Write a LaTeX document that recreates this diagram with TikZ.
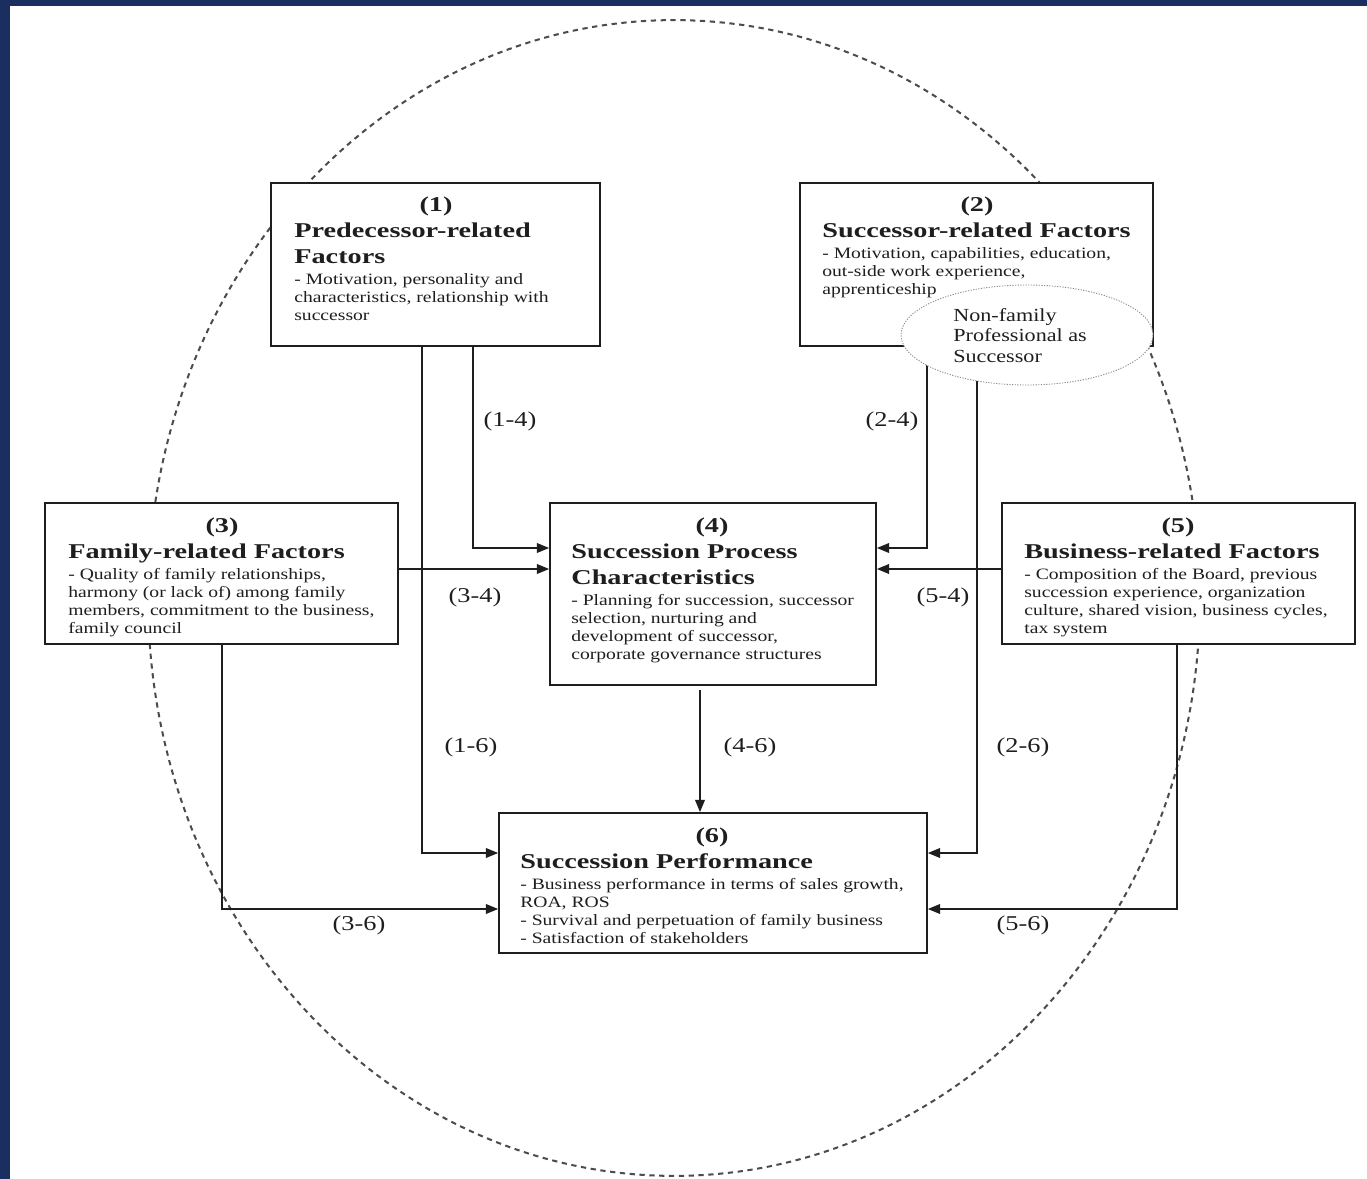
\documentclass[tikz,border=0pt]{standalone}
\usepackage{fontspec}
\setmainfont{Liberation Serif}
\newfontfamily\headfam[FakeStretch=1.34]{Liberation Serif}
\newfontfamily\bodyfam[FakeStretch=1.24]{Liberation Serif}
\newfontfamily\tagfam[FakeStretch=1.25]{Liberation Serif}
\newfontfamily\ovalfam[FakeStretch=1.2]{Liberation Serif}
\usetikzlibrary{arrows.meta,shapes.geometric}
\definecolor{frameblue}{HTML}{1A2E60}
\definecolor{ink}{HTML}{1E1E1E}
\pgfdeclarelayer{under}
\pgfsetlayers{under,main}
\tikzset{
  box/.style={draw=ink, line width=1pt, fill=white, rectangle, inner sep=0pt},
  numtxt/.style={anchor=base, inner sep=0pt, text=ink, font=\headfam\bfseries\fontsize{12}{14}\selectfont},
  headtxt/.style={anchor=base west, inner sep=0pt, text=ink, font=\headfam\bfseries\fontsize{12}{14}\selectfont},
  bodytxt/.style={anchor=base west, inner sep=0pt, text=ink, font=\bodyfam\fontsize{9}{11}\selectfont},
  ovaltxt/.style={anchor=base west, inner sep=0pt, text=ink, font=\ovalfam\fontsize{10.5}{12}\selectfont},
  tagtxt/.style={inner sep=0pt, text=ink, font=\tagfam\fontsize{12}{14}\selectfont},
  conn/.style={draw=ink, line width=0.9pt, -{Triangle[length=7pt,width=5.5pt]}},
}
\begin{document}
\begin{tikzpicture}[x=0.02cm,y=-0.02cm]
\useasboundingbox (0,0) rectangle (1367,1179);

% boxes
\node[box, minimum width=6.58cm, minimum height=3.26cm] (b1) at (435.5,264.5) {};
\node[box, minimum width=7.06cm, minimum height=3.26cm] (b2) at (976.5,264.5) {};
\node[box, minimum width=7.06cm, minimum height=2.82cm] (b3) at (221.5,573.5) {};
\node[box, minimum width=6.52cm, minimum height=3.64cm] (b4) at (713,594) {};
\node[box, minimum width=7.06cm, minimum height=2.82cm] (b5) at (1178.5,573.5) {};
\node[box, minimum width=8.56cm, minimum height=2.80cm] (b6) at (713,883) {};

% non-family professional oval
\node[ellipse, draw=black!45, fill=white, line width=0.5pt, dash pattern=on 0.7pt off 0.8pt,
      minimum width=5.04cm, minimum height=2cm, inner sep=0pt] (ne) at (1027,335) {};

% outer dashed ellipse and frame
\begin{pgfonlayer}{under}
  \fill[frameblue] (0,0) rectangle (1367,1179);
  \fill[white] (10,6) rectangle (1367,1179);
  \node[ellipse, draw=black!70, line width=1.15pt, dash pattern=on 3pt off 2.6pt,
        minimum width=21.04cm, minimum height=23.12cm, inner sep=0pt] (outer) at (674,598) {};
\end{pgfonlayer}

% routing points
\coordinate (c14) at (473,548);
\coordinate (c16) at (422,853);
\coordinate (c24) at (927,548);
\coordinate (c26) at (977,853);
\coordinate (c34) at (400,569);
\coordinate (c36) at (222,909);
\coordinate (c54) at (1000,569);
\coordinate (c56) at (1177,909);
\coordinate (c46) at (700,750);

\begin{pgfonlayer}{under}
  \draw[conn] (b1.south -| c14) |- (b4.west |- c14);
  \draw[conn] (b1.south -| c16) |- (b6.west |- c16);
  \draw[conn] (ne.center -| c24) |- (b4.east |- c24);
  \draw[conn] (ne.center -| c26) |- (b6.east |- c26);
  \draw[conn] (b3.east |- c34) -- (b4.west |- c34);
  \draw[conn] (b3.south -| c36) |- (b6.west |- c36);
  \draw[conn] (b5.west |- c54) -- (b4.east |- c54);
  \draw[conn] (b5.south -| c56) |- (b6.east |- c56);
  \draw[conn, shorten <=2.5pt] (b4.south -| c46) -- (b6.north -| c46);
\end{pgfonlayer}

% connector labels
\node[tagtxt] (l14) at (510,421) {(1-4)};
\node[tagtxt] (l24) at (892,421) {(2-4)};
\node[tagtxt] (l34) at (475,597) {(3-4)};
\node[tagtxt] (l54) at (943,597) {(5-4)};
\node[tagtxt] (l16) at (471,747) {(1-6)};
\node[tagtxt] (l46) at (750,747) {(4-6)};
\node[tagtxt] (l26) at (1023,747) {(2-6)};
\node[tagtxt] (l36) at (359,925) {(3-6)};
\node[tagtxt] (l56) at (1023,925) {(5-6)};

% box 1
\node[numtxt] (t1n) at (436,212) {(1)};
\node[headtxt] (t1a) at (294,238) {Predecessor-related};
\node[headtxt] (t1b) at (294,264) {Factors};
\node[bodytxt] (t1c) at (294,285) {- Motivation, personality and};
\node[bodytxt] (t1d) at (294,303) {characteristics, relationship with};
\node[bodytxt] (t1e) at (294,321) {successor};

% box 2
\node[numtxt] (t2n) at (977,212) {(2)};
\node[headtxt] (t2a) at (822,238) {Successor-related Factors};
\node[bodytxt] (t2c) at (822,259) {- Motivation, capabilities, education,};
\node[bodytxt] (t2d) at (822,277) {out-side work experience,};
\node[bodytxt] (t2e) at (822,295) {apprenticeship};

% oval text
\node[ovaltxt] (o1) at (953,322) {Non-family};
\node[ovaltxt] (o2) at (953,342) {Professional as};
\node[ovaltxt] (o3) at (953,363) {Successor};

% box 3
\node[numtxt] (t3n) at (222,532) {(3)};
\node[headtxt] (t3a) at (68,558) {Family-related Factors};
\node[bodytxt] (t3c) at (68,579) {- Quality of family relationships,};
\node[bodytxt] (t3d) at (68,597) {harmony (or lack of) among family};
\node[bodytxt] (t3e) at (68,615) {members, commitment to the business,};
\node[bodytxt] (t3f) at (68,633) {family council};

% box 4
\node[numtxt] (t4n) at (712,532) {(4)};
\node[headtxt] (t4a) at (571,558) {Succession Process};
\node[headtxt] (t4b) at (571,584) {Characteristics};
\node[bodytxt] (t4c) at (571,605) {- Planning for succession, successor};
\node[bodytxt] (t4d) at (571,623) {selection, nurturing and};
\node[bodytxt] (t4e) at (571,641) {development of successor,};
\node[bodytxt] (t4f) at (571,659) {corporate governance structures};

% box 5
\node[numtxt] (t5n) at (1178,532) {(5)};
\node[headtxt] (t5a) at (1024,558) {Business-related Factors};
\node[bodytxt] (t5c) at (1024,579) {- Composition of the Board, previous};
\node[bodytxt] (t5d) at (1024,597) {succession experience, organization};
\node[bodytxt] (t5e) at (1024,615) {culture, shared vision, business cycles,};
\node[bodytxt] (t5f) at (1024,633) {tax system};

% box 6
\node[numtxt] (t6n) at (712,842) {(6)};
\node[headtxt] (t6a) at (520,868) {Succession Performance};
\node[bodytxt] (t6c) at (520,889) {- Business performance in terms of sales growth,};
\node[bodytxt] (t6d) at (520,907) {ROA, ROS};
\node[bodytxt] (t6e) at (520,925) {- Survival and perpetuation of family business};
\node[bodytxt] (t6f) at (520,943) {- Satisfaction of stakeholders};
\end{tikzpicture}
\end{document}
